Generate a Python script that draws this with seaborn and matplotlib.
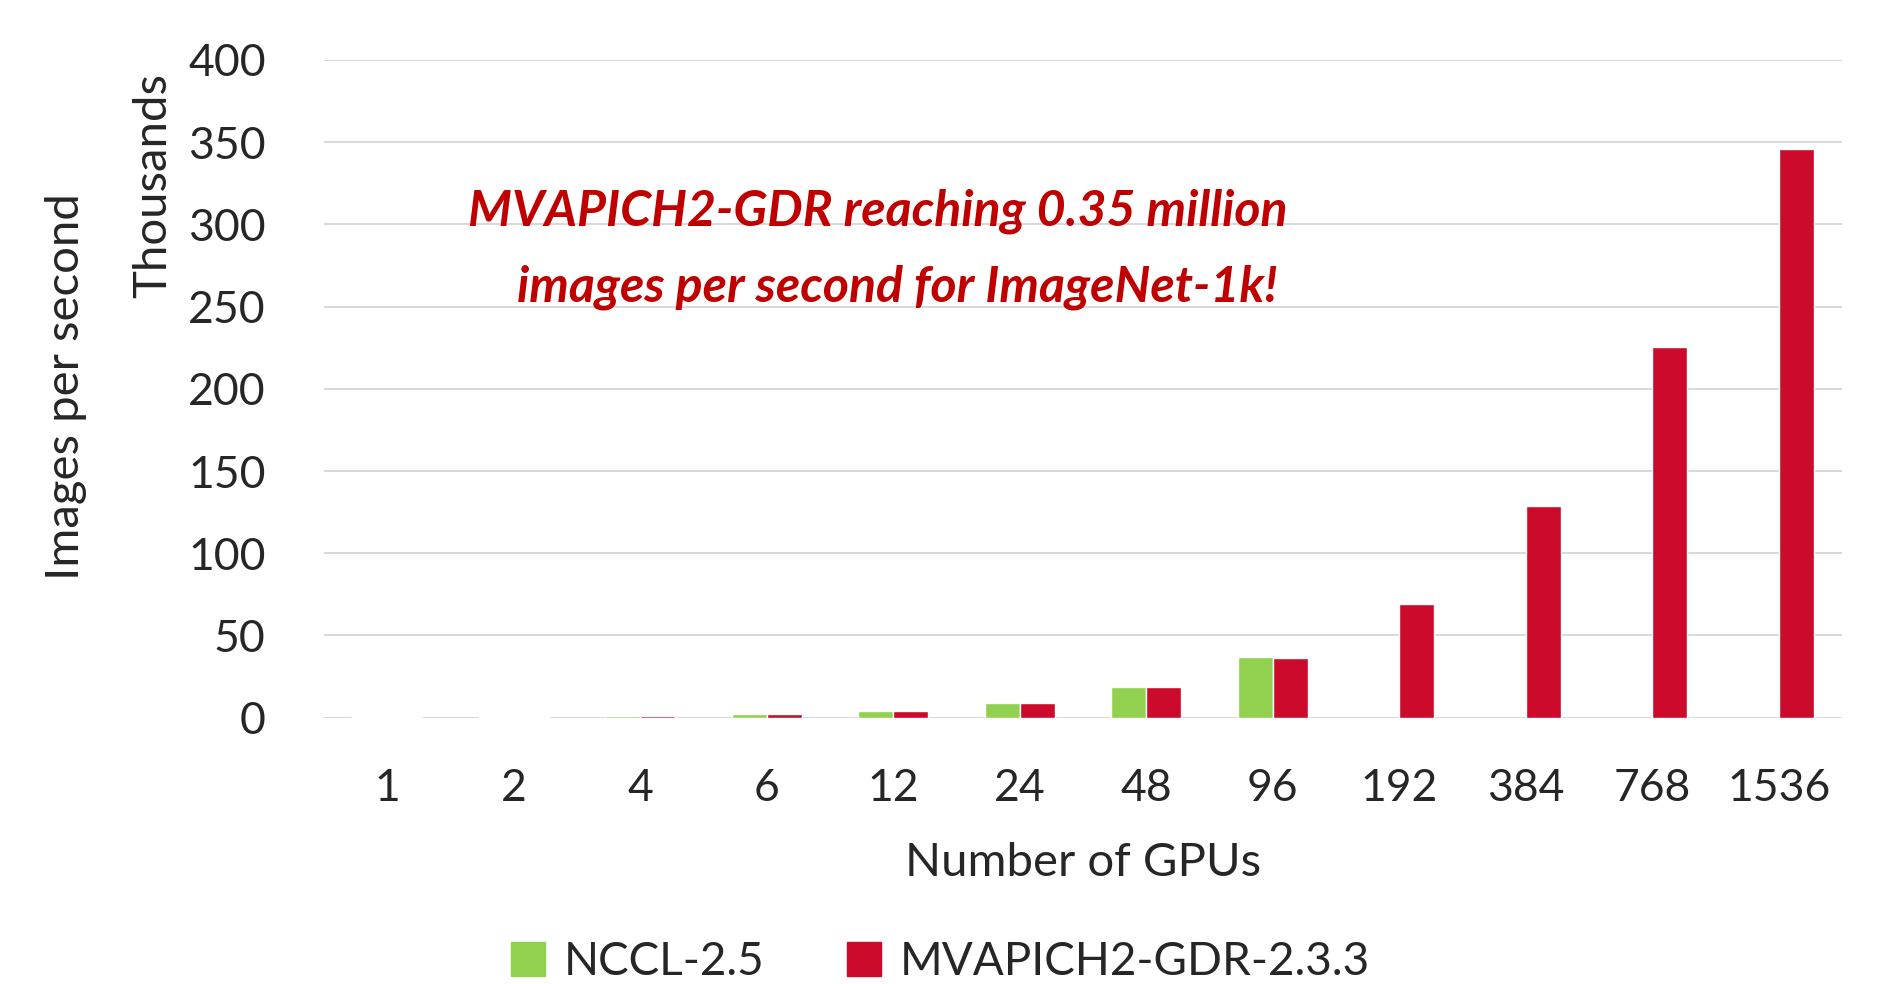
import pandas as pd
import seaborn as sns
import matplotlib.pyplot as plt

# datos (miles de imagenes por segundo)
gpus = ["1", "2", "4", "6", "12", "24", "48", "96", "192", "384", "768", "1536"]
nccl = [0.3, 0.5, 1.0, 1.9, 4.1, 9.0, 18.7, 36.9, None, None, None, None]
mvapich = [0.3, 0.5, 1.0, 1.9, 4.1, 9.0, 18.7, 36.3, 69.0, 129.0, 225.5, 346.0]
series = ["NCCL-2.5", "MVAPICH2-GDR-2.3.3"]
colores = ["#92D050", "#CC0A2C"]

df = pd.DataFrame({"gpus": gpus * 2,
                   "valor": nccl + mvapich,
                   "serie": [series[0]] * len(gpus) + [series[1]] * len(gpus)})

sns.set_style("white")
plt.rcParams['font.family'] = ['Lato', 'DejaVu Sans']

fig = plt.figure(figsize=(18.81, 9.84), dpi=100)
ax = fig.add_axes([324 / 1881, 1 - 717.6 / 984, (1842 - 324) / 1881, (717.6 - 60) / 984])

sns.barplot(data=df, x="gpus", y="valor", hue="serie", order=gpus, hue_order=series,
            palette=colores, width=0.55, ax=ax, legend=False, saturation=1)

ax.set_ylim(0, 400)
ax.set_yticks(range(0, 401, 50))
ax.set_xlim(-0.5, len(gpus) - 0.5)
ax.yaxis.grid(True, color="#D9D9D9", linewidth=1.5)
ax.set_axisbelow(True)
for s in ax.spines.values():
    s.set_visible(False)
ax.tick_params(axis="both", length=0, labelsize=32)
ax.tick_params(axis="x", pad=36)
ax.tick_params(axis="y", pad=42)
ax.set_xlabel("Number of GPUs", fontsize=34, labelpad=24)
ax.set_ylabel("")

fig.text(128 * 1.2 / 1881, 1 - 155 * 1.2 / 984, "Thousands", rotation=90, fontsize=34,
         ha="center", va="center")
fig.text(55 * 1.2 / 1881, 1 - 322 * 1.2 / 984, "Images per second", rotation=90, fontsize=34,
         ha="center", va="center")

# anotacion
rojo = "#C00000"
fig.text(390 * 1.2 / 1881, 1 - 176 * 1.2 / 984, "MVAPICH2-GDR reaching 0.35 million",
         color=rojo, fontsize=36, fontweight="bold", fontstyle="italic", va="center")
fig.text(431 * 1.2 / 1881, 1 - 239 * 1.2 / 984, "images per second for ImageNet-1k!",
         color=rojo, fontsize=36, fontweight="bold", fontstyle="italic", va="center")

handles = [plt.Rectangle((0, 0), 1, 1, color=c) for c in colores]
fig.legend(handles, series, loc="center", bbox_to_anchor=(0.5, 1 - 962 / 984), ncol=2,
           frameon=False, fontsize=33, handlelength=0.75, handleheight=0.75,
           handletextpad=0.4, columnspacing=1.8)

fig.savefig("out.png", dpi=100)
